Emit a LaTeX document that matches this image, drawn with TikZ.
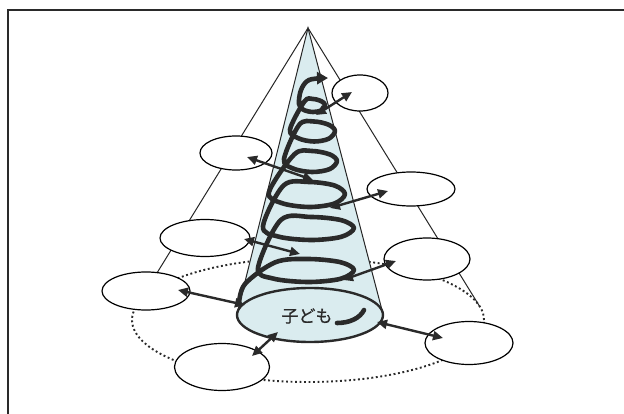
\documentclass[tikz,border=0pt]{standalone}
\usepackage{fontspec}
\newfontfamily\cjk[FakeBold=0.8]{Noto Sans CJK JP}
\usetikzlibrary{shapes.geometric,arrows.meta}
\definecolor{conefill}{RGB}{218,236,239}
\definecolor{ink}{RGB}{42,42,42}
\begin{document}
\begin{tikzpicture}[x=1pt,y=-1pt,
  bubble/.style={ellipse,draw=black,line width=1.2pt,fill=white,inner sep=0pt},
  link/.style={{Triangle[length=10pt,width=9pt]}-{Triangle[length=10pt,width=9pt]},line width=2.4pt,draw=ink},
  coneline/.style={line width=1pt,draw=black!85},
  coil/.style={draw=ink,line width=4.6pt,line cap=round,line join=round}]
\useasboundingbox (0,0) rectangle (624,414);
\fill[white] (0,0) rectangle (624,414);
% frame
\draw[line width=1.6pt,ink] (624,10) -- (8,10) -- (8,414);
% outer cone
\coordinate (apex) at (308,28);
\coordinate (ol) at (136,307);
\coordinate (or) at (480,307);
\draw[coneline] (ol) -- (apex) -- (or);
\node[ellipse,draw=ink,line width=1.9pt,dash pattern=on 1.9pt off 2.6pt,
      minimum width=352pt,minimum height=124pt,inner sep=0pt] (ring) at (308,320) {};
% inner cone
\coordinate (il) at (237.5,312);
\coordinate (ir) at (382.5,312);
\fill[conefill] (apex) -- (il) -- (ir) -- cycle;
\fill[conefill] (310,315) ellipse [x radius=73, y radius=27];
\draw[coneline] (il) -- (apex) -- (ir);
\node[ellipse,draw=ink,line width=2.4pt,minimum width=146pt,minimum height=54pt,inner sep=0pt] (base) at (310,315) {};
\node[font=\cjk\fontsize{17}{17}\selectfont,text=ink,inner sep=0pt] (kodomo) at (307,316) {子ども};
% spiral
\draw[coil,-{Triangle[length=11pt,width=12pt]}] plot[smooth,tension=0.55] coordinates {
  (239,304) (245,284)
  (275.5,262.2) (308,259) (340.5,262.2) (354,270) (340.5,278.8) (308,282) (273,278.5) (258,268)
  (280.6,220.2) (311,217) (341.4,220.2) (354,228) (341.4,236.8) (311,240) (278,236.5) (263,226)
  (283.5,185.5) (309,182) (334.5,185.5) (345,194) (334.5,203.5) (309,207) (281.5,203) (269,192)
  (294.3,154.4) (312,151) (329.7,154.4) (337,161) (329.7,169.1) (312,172) (293,168.5) (284,159)
  (299.2,124.8) (314,121.5) (328.8,124.8) (335,131) (328.8,138.7) (314,141.5) (298.2,138.2) (290,129.5)
  (304.5,101.3) (313,99) (321.5,101.3) (325,105) (321.5,110.2) (313,112) (303.5,109.8) (299,104)
  (301,90) (309,80) (328,78)};
\draw[coil] (337,323) .. controls (350,323) and (360,318) .. (364,310);
% outer nodes
\node[bubble,minimum width=56pt,minimum height=36pt] (n1) at (360,93) {};
\node[bubble,minimum width=72pt,minimum height=34pt] (n2) at (236,153) {};
\node[bubble,minimum width=88pt,minimum height=34pt] (n3) at (411,189) {};
\node[bubble,minimum width=90pt,minimum height=37pt] (n4) at (205,238) {};
\node[bubble,minimum width=86pt,minimum height=42pt] (n5) at (427,259) {};
\node[bubble,minimum width=88pt,minimum height=38pt] (n6) at (146,291) {};
\node[bubble,minimum width=95pt,minimum height=47pt] (n7) at (222,367) {};
\node[bubble,minimum width=88pt,minimum height=43pt] (n8) at (469,343) {};
% connector ends
\coordinate (s1) at (316,115); \coordinate (t1) at (352,92);
\coordinate (s2) at (313,180); \coordinate (t2) at (247,157);
\coordinate (s3) at (330,208); \coordinate (t3) at (388,191);
\coordinate (s4) at (300,254); \coordinate (t4) at (244,239);
\coordinate (s5) at (343,280); \coordinate (t5) at (396,261);
\coordinate (s6) at (245,305); \coordinate (t6) at (178,290);
\coordinate (s7) at (278,332); \coordinate (t7) at (252,356);
\coordinate (s8) at (377,322); \coordinate (t8) at (443,338);
\foreach \i in {1,...,8} {\draw[link] (s\i) -- (t\i);}
\end{tikzpicture}
\end{document}
